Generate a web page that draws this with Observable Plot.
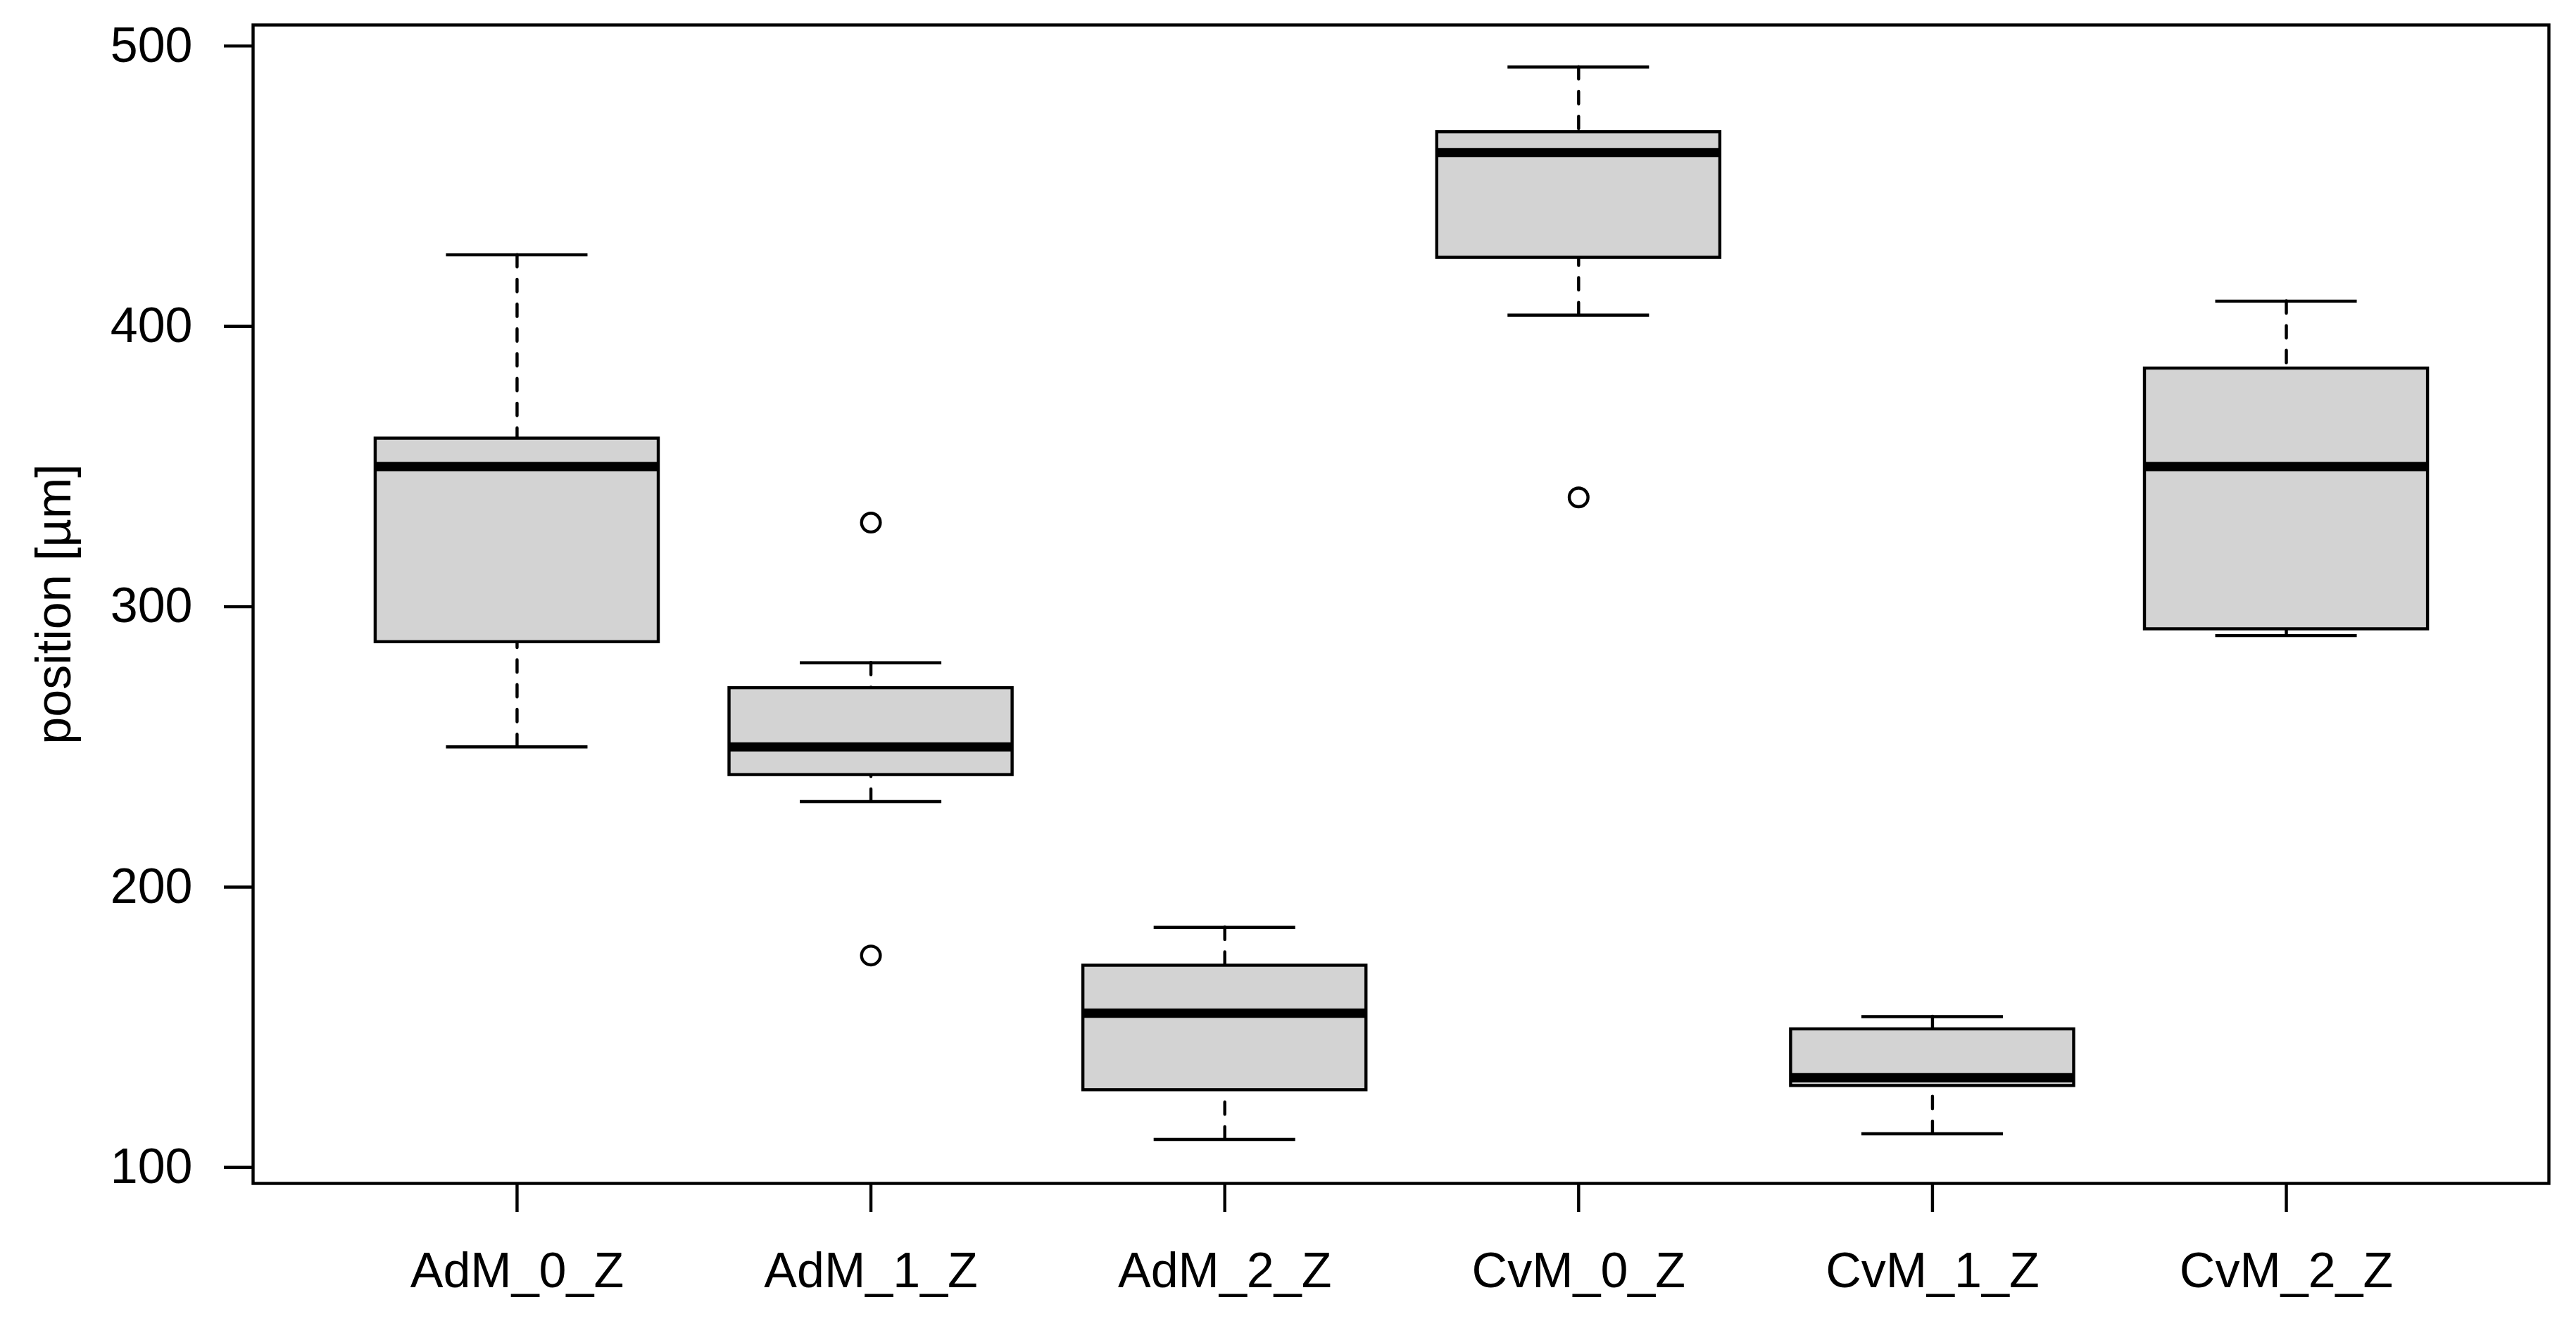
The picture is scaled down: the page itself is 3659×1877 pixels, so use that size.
<!DOCTYPE html>
<html>
<head>
<meta charset="utf-8">
<script src="https://cdn.jsdelivr.net/npm/d3@7"></script>
<script src="https://cdn.jsdelivr.net/npm/@observablehq/plot@0.6"></script>
<style>
  html, body { margin: 0; padding: 0; background: white; overflow: hidden; }
  #chart svg { display: block; }
</style>
</head>
<body>
<div id="chart"></div>
<script>
// ---- data ----
const groups = ["AdM_0_Z", "AdM_1_Z", "AdM_2_Z", "CvM_0_Z", "CvM_1_Z", "CvM_2_Z"];
const lowerWhisker = [250, 230.5, 110, 404, 112, 289.7];
const q1 = [287.4, 240, 127.6, 424.5, 129.1, 292];
const median = [350, 250, 155, 462, 132, 350];
const q3 = [360, 271, 172, 469.3, 149.3, 385];
const upperWhisker = [425.5, 280, 185.6, 492.5, 153.8, 409];
const outlierGroup = ["AdM_1_Z", "AdM_1_Z", "CvM_0_Z"];
const outlierValue = [330, 175.6, 339];
const yTicks = [100, 200, 300, 400, 500];
const yLabel = "position [µm]";

// ---- table built from the arrays ----
const boxes = groups.map((g, i) => ({
  g, i: i + 1,
  lo: lowerWhisker[i], q1: q1[i], med: median[i], q3: q3[i], hi: upperWhisker[i]
}));
const outliers = outlierGroup.map((g, k) => ({ i: groups.indexOf(g) + 1, v: outlierValue[k] }));

const lw = 4.4;
const half = 0.4, staple = 0.2;

const chart = Plot.plot({
  width: 3659,
  height: 1877,
  marginLeft: 359,
  marginRight: 39,
  marginTop: 35,
  marginBottom: 196,
  x: { type: "linear", domain: [0.254, 6.742] },
  y: { domain: [94.3, 507.5] },
  style: { fontFamily: "Liberation Sans, Arial, sans-serif", fontSize: "70px", color: "black", background: "white" },
  marks: [
    // whiskers (dashed)
    Plot.ruleX(boxes, { x: "i", y1: "hi", y2: "q3", stroke: "black", strokeWidth: lw, strokeDasharray: "17.6,17.6", strokeLinecap: "round" }),
    Plot.ruleX(boxes, { x: "i", y1: "lo", y2: "q1", stroke: "black", strokeWidth: lw, strokeDasharray: "17.6,17.6", strokeLinecap: "round" }),
    // staples
    Plot.ruleY(boxes, { y: "hi", x1: d => d.i - staple, x2: d => d.i + staple, stroke: "black", strokeWidth: lw }),
    Plot.ruleY(boxes, { y: "lo", x1: d => d.i - staple, x2: d => d.i + staple, stroke: "black", strokeWidth: lw }),
    // boxes
    Plot.rect(boxes, { x1: d => d.i - half, x2: d => d.i + half, y1: "q1", y2: "q3", fill: "#d3d3d3", stroke: "black", strokeWidth: lw }),
    // medians
    Plot.ruleY(boxes, { y: "med", x1: d => d.i - half, x2: d => d.i + half, stroke: "black", strokeWidth: lw * 3 }),
    // outliers
    Plot.dot(outliers, { x: "i", y: "v", r: 13.3, stroke: "black", strokeWidth: lw, fill: "none" }),
    // axes
    Plot.axisY({ ticks: yTicks, tickSize: 41, tickPadding: 45, fontSize: 70, strokeWidth: lw, label: null, tickFormat: d => String(d) }),
    Plot.axisX({ ticks: groups.map((g, i) => i + 1), tickFormat: i => groups[i - 1], tickSize: 41, tickPadding: 57, fontSize: 70, strokeWidth: lw, label: null }),
    Plot.text([yLabel], { frameAnchor: "left", rotate: -90, dx: -260, textAnchor: "middle", lineAnchor: "bottom", fontSize: 70, fill: "black" }),
    Plot.frame({ stroke: "black", strokeWidth: lw })
  ]
});
document.getElementById("chart").appendChild(chart);
</script>
</body>
</html>
